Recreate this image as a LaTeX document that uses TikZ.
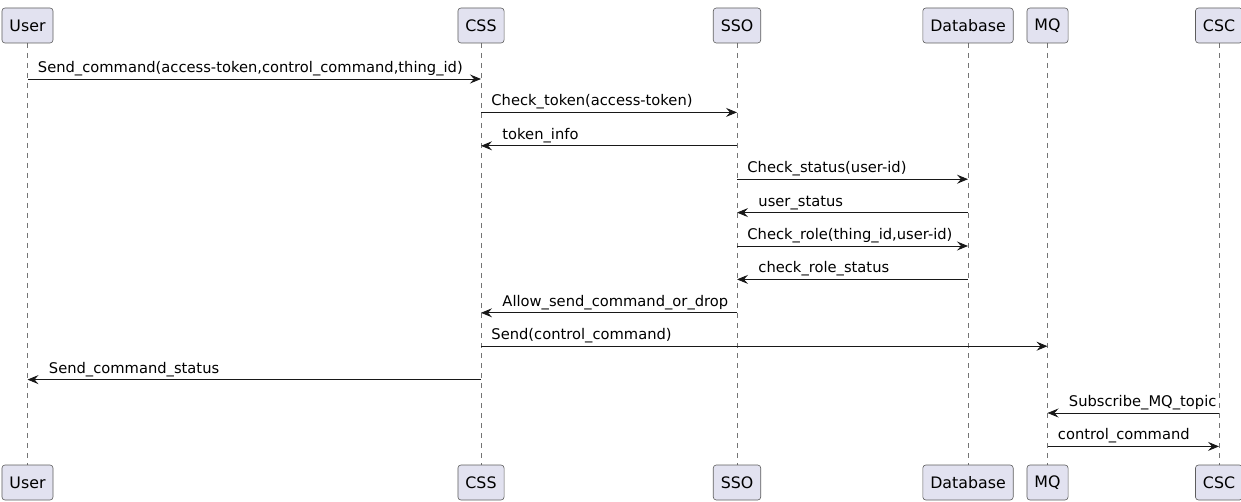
\documentclass[tikz,border=0pt]{standalone}
\usepackage{fontspec}
\setmainfont{DejaVu Sans}
\usetikzlibrary{arrows.meta}
\definecolor{partfill}{HTML}{E2E2F0}
\definecolor{partline}{HTML}{181818}

\begin{document}
\begin{tikzpicture}[x=1pt,y=-1pt,
    part/.style={draw=partline!70, line width=0.6pt, fill=partfill, rounded corners=3pt,
      minimum height=35pt, inner xsep=7.5pt, font=\fontsize{15.8}{18}\selectfont},
    life/.style={draw=partline!60, line width=0.6pt, dash pattern=on 5pt off 5pt},
    msg/.style={draw=partline, line width=0.9pt, -{Stealth[length=11pt,width=9pt,inset=4pt]}},
    rlbl/.style={pos=0, anchor=base west, inner sep=0pt, xshift=10pt, yshift=6.5pt,
      font=\fontsize{14.7}{17}\selectfont},
    llbl/.style={pos=1, anchor=base west, inner sep=0pt, xshift=21pt, yshift=6.5pt,
      font=\fontsize{14.7}{17}\selectfont}]
  \useasboundingbox (0,0) rectangle (1241,502);

  % participants, lifelines and message points
  \foreach \p/\x/\t in {user/27.5/User, css/481/CSS, sso/737/SSO, db/968/Database, mq/1047.5/MQ, csc/1219/CSC} {
    \draw[life] (\x,43) -- (\x,465);
    \node[part] (\p-t) at (\x,25.5) {\t};
    \node[part] (\p-b) at (\x,482.5) {\t};
    \foreach \i in {1,...,12} {
      \pgfmathsetmacro{\y}{79+33.4*(\i-1)}
      \coordinate (\p-\i) at (\x,\y);
    }
  }

  % messages
  \draw[msg] (user-1) -- node[rlbl] {Send\_command(access-token,control\_command,thing\_id)} (css-1);
  \draw[msg] (css-2) -- node[rlbl] {Check\_token(access-token)} (sso-2);
  \draw[msg] (sso-3) -- node[llbl] {token\_info} (css-3);
  \draw[msg] (sso-4) -- node[rlbl] {Check\_status(user-id)} (db-4);
  \draw[msg] (db-5) -- node[llbl] {user\_status} (sso-5);
  \draw[msg] (sso-6) -- node[rlbl] {Check\_role(thing\_id,user-id)} (db-6);
  \draw[msg] (db-7) -- node[llbl] {check\_role\_status} (sso-7);
  \draw[msg] (sso-8) -- node[llbl] {Allow\_send\_command\_or\_drop} (css-8);
  \draw[msg] (css-9) -- node[rlbl] {Send(control\_command)} (mq-9);
  \draw[msg] (css-10) -- node[llbl] {Send\_command\_status} (user-10);
  \draw[msg] (csc-11) -- node[llbl] {Subscribe\_MQ\_topic} (mq-11);
  \draw[msg] (mq-12) -- node[rlbl] {control\_command} (csc-12);
\end{tikzpicture}
\end{document}
